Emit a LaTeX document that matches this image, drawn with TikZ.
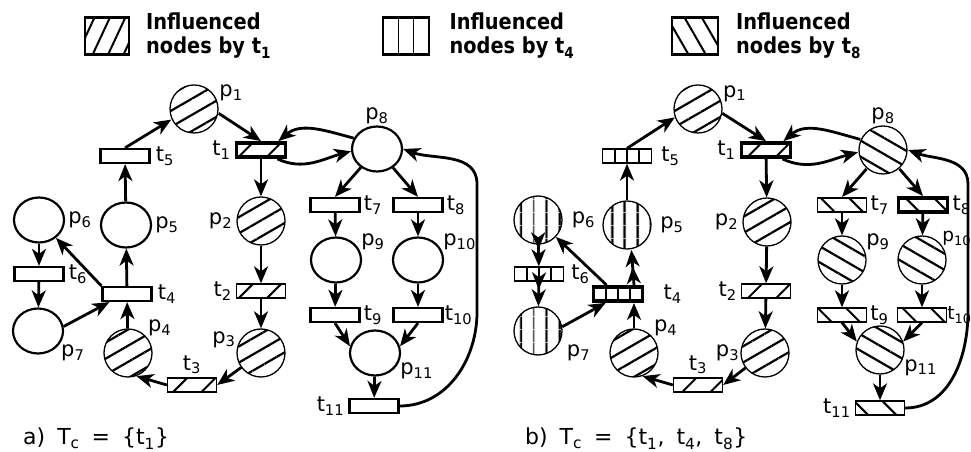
\documentclass[tikz,border=0pt]{standalone}
\usepackage{fontspec}
\setmainfont{DejaVu Sans}
\newfontfamily\keyfont{DejaVu Sans}[FakeStretch=0.88]
\usetikzlibrary{shapes.geometric, arrows.meta, positioning, patterns.meta}

\newcommand\gap{\hspace{12pt}}

\tikzset{
  place/.style = {ellipse, draw, line width=2.2pt, minimum width=50pt, minimum height=45pt, inner sep=0pt},
  hplace/.style = {circle, draw, line width=1.3pt, minimum size=48pt, inner sep=0pt},
  trans/.style = {rectangle, draw, line width=2.2pt, minimum width=49pt, minimum height=14pt, inner sep=0pt},
  htrans/.style = {trans, line width=1.3pt},
  fired/.style = {line width=3.8pt},
  % hatchings: A = by t1, B = by t4, C = by t8
  byA/.style = {pattern={Lines[angle=30, distance=14pt, line width=2.2pt]}},
  byAt/.style = {pattern={Lines[angle=45, distance=20pt, line width=2pt]}},
  byB/.style = {pattern={Lines[angle=90, distance=13pt, line width=2.4pt]}},
  byBt/.style = {path picture={\foreach \k in {1,2,3}
      \draw[line width=1.6pt] ([xshift=\k*12.25pt]path picture bounding box.south west) -- ++(0,20pt);}},
  byC/.style = {pattern={Lines[angle=-30, distance=14pt, line width=2.2pt]}},
  byCt/.style = {pattern={Lines[angle=-45, distance=20pt, line width=2pt]}},
  flow/.style = {-{Stealth[length=17pt, width=14pt, inset=5pt]}, line width=2.8pt},
  twin/.style = {flow, -{Stealth[length=17pt, width=14pt, inset=5pt] Stealth[length=17pt, width=14pt, inset=5pt]}},
  lbl/.style = {font=\fontsize{21}{21}\selectfont, inner sep=1pt},
  edgelbl/.style = {inner sep=0pt, font=\fontsize{18.5}{18.5}\selectfont},
  every label/.style = {lbl},
  keybox/.style = {rectangle, draw, line width=2.8pt, minimum width=44pt, minimum height=37pt, inner sep=0pt},
  keytext/.style = {align=left, inner sep=0pt, font=\keyfont\bfseries\fontsize{22}{24}\selectfont},
  caption/.style = {anchor=base west, inner sep=0pt, font=\fontsize{22}{22}\selectfont},
}

\begin{document}
\begin{tikzpicture}[x=1pt, y=1pt]
  \useasboundingbox (0,0) rectangle (971,452);

  % legend
  \node[keybox, pattern={Lines[angle=65, distance=14pt, line width=2pt]}] (key1) at (107,416) {};
  \node[keytext, right=16pt of key1] (keytxt1) {Influenced\\nodes by t\textsubscript{1}};
  \node[keybox, minimum width=46pt, path picture={\foreach \k in {1,2}
      \draw[line width=1.6pt] ([xshift=\k*15.33pt]path picture bounding box.south west) -- ++(0,40pt);}] (key2) at (406,416) {};
  \node[keytext, right=19pt of key2] (keytxt2) {Influenced\\nodes by t\textsubscript{4}};
  \node[keybox, minimum width=46pt, pattern={Lines[angle=-60, distance=15pt, line width=2pt]}] (key3) at (695,416) {};
  \node[keytext, right=17pt of key3] (keytxt3) {Influenced\\nodes by t\textsubscript{8}};

  % a) net
  \node[hplace, byA, label=15:p\textsubscript{1}] (a-p1) at (194,343) {};
  \node[htrans, byAt, fired, label={[label distance=3pt]left:t\textsubscript{1}}] (a-t1) at (261,302) {};
  \node[place, label=above:p\textsubscript{8}] (a-p8) at (377,303) {};
  \node[trans, label={[label distance=4pt]right:t\textsubscript{5}}] (a-t5) at (125,296) {};
  \node[place, label={[label distance=2pt]right:p\textsubscript{5}}] (a-p5) at (126,227) {};
  \node[place, label={[label distance=2pt]right:p\textsubscript{6}}] (a-p6) at (39,232) {};
  \node[trans, label={[label distance=3pt]right:t\textsubscript{6}}] (a-t6) at (39,178) {};
  \node[place, label=-30:p\textsubscript{7}] (a-p7) at (38,121) {};
  \node[trans, label={[label distance=4pt]right:t\textsubscript{4}}] (a-t4) at (127,158) {};
  \node[hplace, byA, label=40:p\textsubscript{4}] (a-p4) at (128,99) {};
  \node[htrans, byAt, label={[label distance=2pt]above:t\textsubscript{3}}] (a-t3) at (192,67) {};
  \node[hplace, byA, label=170:p\textsubscript{3}] (a-p3) at (261,99) {};
  \node[htrans, byAt, label={[label distance=3pt]left:t\textsubscript{2}}] (a-t2) at (261,161) {};
  \node[hplace, byA, label={[label distance=3pt]left:p\textsubscript{2}}] (a-p2) at (261,231) {};
  \node[trans, label={[label distance=2pt]right:t\textsubscript{7}}] (a-t7) at (335,247) {};
  \node[trans, label={[label distance=2pt]right:t\textsubscript{8}}] (a-t8) at (418,247) {};
  \node[place, label=20:p\textsubscript{9}] (a-p9) at (336,192) {};
  \node[place, label=20:p\textsubscript{10}] (a-p10) at (418,192) {};
  \node[trans, label={[label distance=2pt]right:t\textsubscript{9}}] (a-t9) at (335,137) {};
  \node[trans, label=right:t\textsubscript{10}] (a-t10) at (418,137) {};
  \node[place, label=-20:p\textsubscript{11}] (a-p11) at (375,99) {};
  \node[trans, label={[label distance=3pt]left:t\textsubscript{11}}] (a-t11) at (374,46) {};
  \coordinate (a-r1) at (477,140);
  \coordinate (a-r2) at (477,268);

  \draw[flow] (a-t5.north) -- (a-p1.205);
  \draw[flow] (a-p1.-10) -- (a-t1.north);
  \draw[flow] (a-p8.155) to[out=165, in=40] ([xshift=-9pt]a-t1.north east);
  \draw[flow] ([xshift=-10pt]a-t1.south east) to[out=-25, in=195] (a-p8.185);
  \draw[flow] (a-t1) -- (a-p2);
  \draw[flow] (a-p2) -- (a-t2);
  \draw[flow] (a-t2) -- (a-p3);
  \draw[flow] (a-p3) -- (a-t3.east);
  \draw[flow] (a-t3.west) -- (a-p4.-70);
  \draw[flow] (a-p4) -- (a-t4);
  \draw[flow] (a-t4) -- (a-p5);
  \draw[flow] (a-p5) -- (a-t5);
  \draw[flow] (a-t4.north west) -- (a-p6);
  \draw[flow] (a-p6) -- (a-t6);
  \draw[flow] (a-t6) -- (a-p7);
  \draw[flow] (a-p7.10) -- ([xshift=8pt]a-t4.south west);
  \draw[flow] (a-p8) -- (a-t7.north);
  \draw[flow] (a-p8) -- (a-t8.north);
  \draw[flow] (a-t7) -- (a-p9);
  \draw[flow] (a-t8) -- (a-p10);
  \draw[flow] (a-p9) -- (a-t9);
  \draw[flow] (a-p10) -- (a-t10);
  \draw[flow] (a-t9.south) -- (a-p11.165);
  \draw[flow] (a-t10.south) -- (a-p11.15);
  \draw[flow] (a-p11) -- (a-t11);
  \draw[flow] (a-t11.east) to[out=0, in=-90] (a-r1) -- (a-r2) to[out=90, in=-20] (a-p8.east);

  % b) net
  \node[hplace, byA, label=15:p\textsubscript{1}] (b-p1) at (698,343) {};
  \node[htrans, byAt, fired, label={[label distance=3pt]left:t\textsubscript{1}}] (b-t1) at (766,302) {};
  \node[hplace, byC, label=above:p\textsubscript{8}] (b-p8) at (883,302) {};
  \node[htrans, byBt, label={[label distance=8pt]right:t\textsubscript{5}}] (b-t5) at (627,296) {};
  \node[hplace, byB, label={[label distance=7pt]right:p\textsubscript{5}}] (b-p5) at (627,227) {};
  \node[hplace, byB, label={[label distance=8pt]right:p\textsubscript{6}}] (b-p6) at (538,232) {};
  \node[htrans, byBt, label={[label distance=6pt]right:t\textsubscript{6}}] (b-t6) at (539,178) {};
  \node[hplace, byB, label={[label distance=6pt]-25:p\textsubscript{7}}] (b-p7) at (538,121) {};
  \node[htrans, byBt, fired, label={[label distance=18pt]right:t\textsubscript{4}}] (b-t4) at (618,158) {};
  \node[hplace, byA, label=40:p\textsubscript{4}] (b-p4) at (634,99) {};
  \node[htrans, byAt, label={[label distance=2pt]above:t\textsubscript{3}}] (b-t3) at (698,67) {};
  \node[hplace, byA, label=left:p\textsubscript{3}] (b-p3) at (765,99) {};
  \node[htrans, byAt, label={[label distance=3pt]left:t\textsubscript{2}}] (b-t2) at (766,161) {};
  \node[hplace, byA, label={[label distance=3pt]left:p\textsubscript{2}}] (b-p2) at (767,230) {};
  \node[htrans, byCt, label={[label distance=2pt]right:t\textsubscript{7}}] (b-t7) at (842,247) {};
  \node[htrans, byCt, fired, label={[label distance=2pt]right:t\textsubscript{8}}] (b-t8) at (923,247) {};
  \node[hplace, byC, label=20:p\textsubscript{9}] (b-p9) at (842,192) {};
  \node[hplace, byC, label={[edgelbl]35:p\textsubscript{10}}] (b-p10) at (922,192) {};
  \node[htrans, byCt, label={[edgelbl]right:t\textsubscript{10}}] (b-t10) at (922,137) {};
  \node[htrans, byCt, label={[label distance=2pt]right:t\textsubscript{9}}] (b-t9) at (842,137) {};
  \node[hplace, byC, label=-20:p\textsubscript{11}] (b-p11) at (880,102) {};
  \node[htrans, byCt, label={[label distance=3pt]left:t\textsubscript{11}}] (b-t11) at (880,44) {};
  \coordinate (b-r1) at (968,140);
  \coordinate (b-r2) at (968,268);

  \draw[flow] (b-t5.north) -- (b-p1.200);
  \draw[flow] (b-p1.-10) -- (b-t1.north);
  \draw[flow] (b-p8.155) to[out=165, in=40] ([xshift=-9pt]b-t1.north east);
  \draw[flow] ([xshift=-10pt]b-t1.south east) to[out=-25, in=195] (b-p8.185);
  \draw[flow] (b-t1) -- (b-p2);
  \draw[flow] (b-p2) -- (b-t2);
  \draw[flow] (b-t2) -- (b-p3);
  \draw[flow] (b-p3) -- (b-t3.east);
  \draw[flow] (b-t3.west) -- (b-p4.-70);
  \draw[flow] (b-p4) -- (b-p4 |- b-t4.south);
  \draw[twin] (b-p4 |- b-t4.north) -- (b-p5.-80);
  \draw[flow] (b-p5) -- (b-t5);
  \draw[flow] ([xshift=15pt]b-t4.north west) -- (b-p6);
  \draw[twin] (b-p6) -- (b-t6);
  \draw[twin] (b-t6) -- (b-p7);
  \draw[flow] (b-p7.10) -- ([xshift=14pt]b-t4.south west);
  \draw[flow] (b-p8) -- (b-t7.north);
  \draw[flow] (b-p8) -- (b-t8.north);
  \draw[flow] (b-t7) -- (b-p9);
  \draw[flow] (b-t8) -- (b-p10);
  \draw[flow] (b-p9) -- (b-t9);
  \draw[flow] (b-p10) -- (b-t10);
  \draw[flow] (b-t9.south) -- (b-p11.160);
  \draw[flow] (b-t10.south) -- (b-p11.20);
  \draw[flow] (b-p11) -- (b-t11);
  \draw[flow] (b-t11.east) to[out=0, in=-90] (b-r1) -- (b-r2) to[out=90, in=-20] (b-p8.east);

  % captions
  \node[caption] (cap-a) at (23,7) {a)\gap T\textsubscript{c}\gap=\gap\{t\textsubscript{1}\}};
  \node[caption] (cap-b) at (525,7) {b)\gap T\textsubscript{c}\gap=\gap\{t\textsubscript{1},\gap t\textsubscript{4},\gap t\textsubscript{8}\}};
\end{tikzpicture}
\end{document}
